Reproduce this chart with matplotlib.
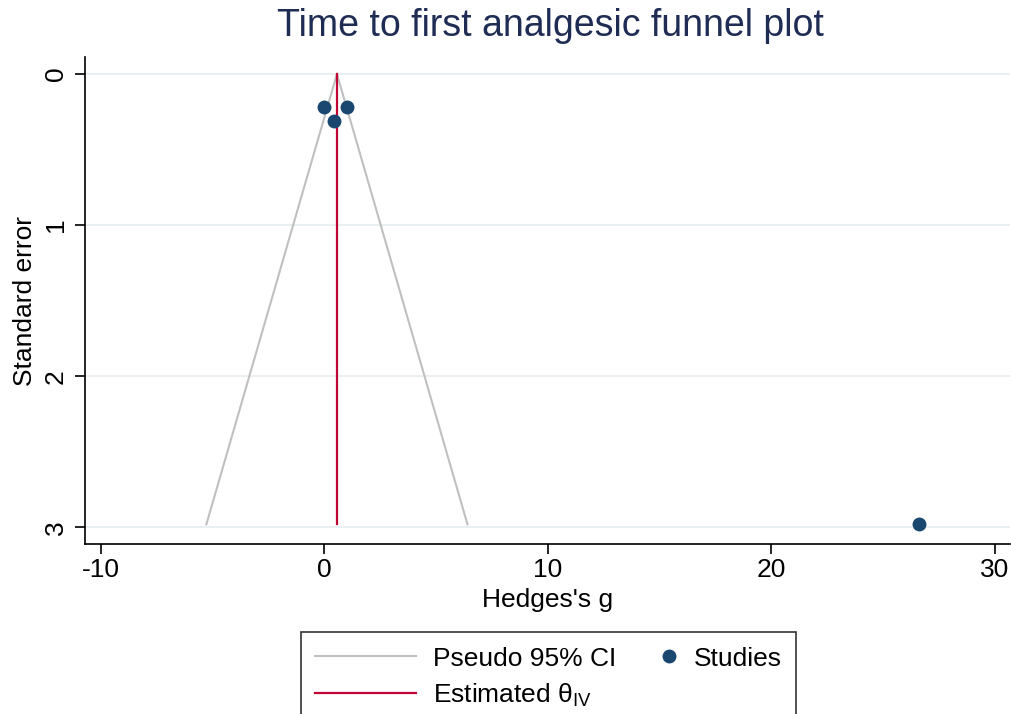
import matplotlib
matplotlib.use("Agg")
import matplotlib.pyplot as plt
from matplotlib.lines import Line2D
from matplotlib.legend_handler import HandlerLine2D

plt.rcParams['font.family'] = ['Liberation Sans', 'DejaVu Sans']
plt.rcParams['mathtext.fontset'] = 'custom'
plt.rcParams['mathtext.rm'] = 'Liberation Sans'
plt.rcParams['mathtext.it'] = 'Liberation Sans'

# Data
hedges_g = [-0.04, 1.03, 0.45, 26.6]
std_err = [0.22, 0.22, 0.31, 2.98]
theta_iv = 0.56
se_max = 2.98
funnel_x = [theta_iv - 1.96 * se_max, theta_iv, theta_iv + 1.96 * se_max]
funnel_se = [se_max, 0.0, se_max]
x_ticks = [-10, 0, 10, 20, 30]
y_ticks = [0, 1, 2, 3]

navy = '#1a476f'
gray = '#c0c0c0'
red = '#c10534'
grid_c = '#eaf0f2'
FS = 19

fig = plt.figure(figsize=(10.11, 7.14), dpi=100)
ax = fig.add_axes([85 / 1011, 1 - 544 / 714, (1010 - 85) / 1011, (544 - 57) / 714])

ax.set_xlim(-10.71, 30.67)
ax.set_ylim(3.11, -0.113)

for yt in y_ticks:
    ax.axhline(yt, color=grid_c, lw=1.5, zorder=0)

ax.plot(funnel_x, funnel_se, color=gray, lw=1.5, zorder=2)
ax.plot([theta_iv, theta_iv], [0, se_max], color=red, lw=1.6, zorder=3)
ax.scatter(hedges_g, std_err, s=100, color=navy, zorder=4, linewidths=0)

ax.set_xticks(x_ticks)
ax.set_yticks(y_ticks)
ax.set_xticklabels([str(v) for v in x_ticks])
ax.set_yticklabels([str(v) for v in y_ticks], rotation=90, va='center')
ax.tick_params(axis='both', labelsize=FS, length=7.2, width=1.2, color='black', direction='out', pad=3)
ax.tick_params(axis='y', pad=5)
for s in ['top', 'right']:
    ax.spines[s].set_visible(False)
for s in ['left', 'bottom']:
    ax.spines[s].set_linewidth(1.2)

ax.set_xlabel("Hedges's g", fontsize=FS, labelpad=4)
ax.set_ylabel("Standard error", fontsize=FS, labelpad=5)
fig.text(550 / 1011, 1 - 26 / 714, "Time to first analgesic funnel plot", fontsize=27,
         color='#1f2d55', ha='center', va='center')


class RightMarkerHandler(HandlerLine2D):
    def create_artists(self, legend, orig_handle, xdescent, ydescent, width, height, fontsize, trans):
        arts = super().create_artists(legend, orig_handle, xdescent, ydescent, width, height, fontsize, trans)
        for a in arts:
            m = a.get_marker()
            if m not in (None, 'None', '', ' '):
                a.set_xdata([width - xdescent - 0.3 * fontsize])
        return arts


h_ci = Line2D([], [], color=gray, lw=1.5)
h_th = Line2D([], [], color=red, lw=1.6)
h_st = Line2D([], [], color=navy, marker='o', markersize=10, linestyle='None', markeredgewidth=0)
leg = fig.legend([h_ci, h_th, h_st], ['Pseudo 95% CI', r'Estimated $\theta_{\mathrm{IV}}$', 'Studies'],
                 ncol=2, loc='upper center', bbox_to_anchor=(548.5 / 1011, 1 - 632 / 714),
                 fontsize=FS, frameon=True, fancybox=False, edgecolor='black',
                 handlelength=3.8, handletextpad=0.65, columnspacing=-1.5,
                 borderpad=0.55, labelspacing=0.42, borderaxespad=0,
                 handler_map={h_st: RightMarkerHandler()})
leg.get_frame().set_linewidth(1.2)

fig.savefig('out.png', dpi=100)
